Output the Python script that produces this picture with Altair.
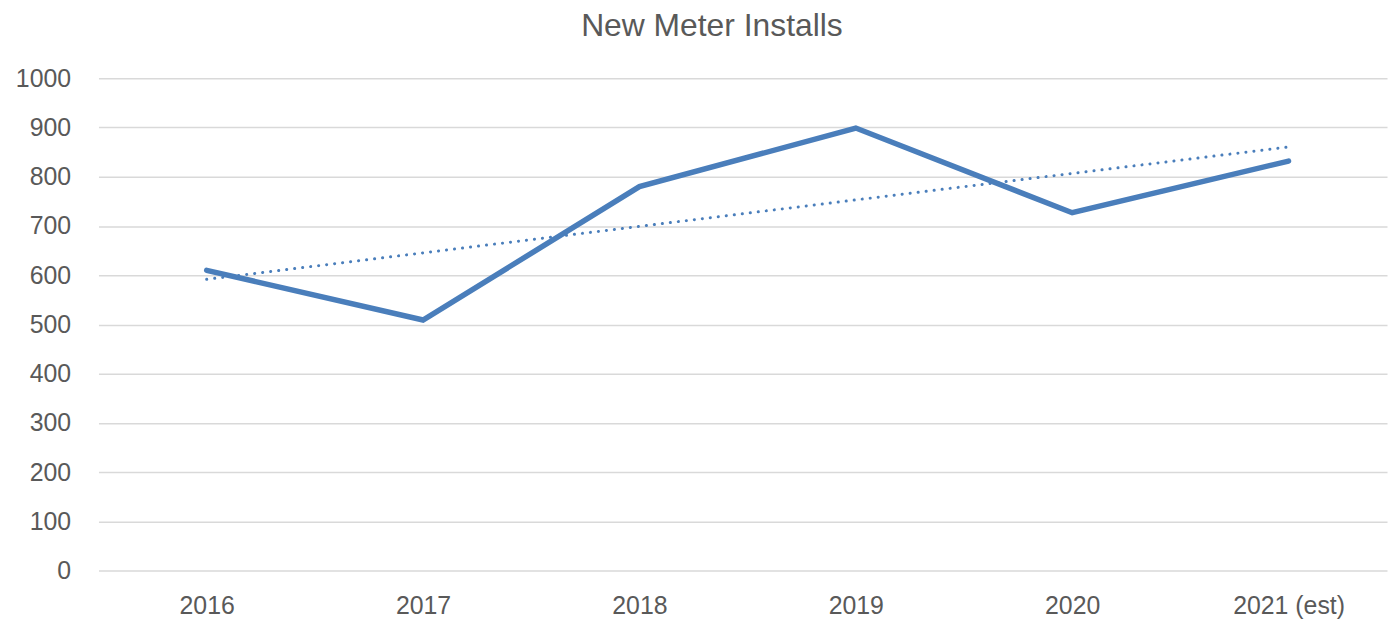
import altair as alt
import pandas as pd

labels = ["2016", "2017", "2018", "2019", "2020", "2021 (est)"]
idx = [0, 1, 2, 3, 4, 5]
installs = [610, 509, 780, 899, 727, 832]

df = pd.DataFrame({"idx": idx, "label": labels, "installs": installs})

label_expr = "[" + ",".join(f"'{l}'" for l in labels) + "][datum.value]"
blue = "#4a7ebb"
font = "Liberation Sans"

x = alt.X("idx:Q", scale=alt.Scale(domain=[-0.5, 5.455], nice=False, zero=False),
          axis=alt.Axis(values=idx, labelExpr=label_expr, grid=False, ticks=False,
                        domain=False, title=None, labelFontSize=25, labelColor="#595959",
                        labelFont=font, labelPadding=23))
y = alt.Y("installs:Q", scale=alt.Scale(domain=[0, 1000], nice=False),
          axis=alt.Axis(values=list(range(0, 1001, 100)), format="d", grid=True,
                        gridColor="#d9d9d9", gridWidth=1.5, ticks=False, domain=False,
                        title=None, labelFontSize=25, labelColor="#595959",
                        labelFont=font, labelPadding=28))

base = alt.Chart(df)
line = base.mark_line(color=blue, strokeWidth=5.5, strokeCap="round", strokeJoin="miter").encode(x=x, y=y)
trend = base.transform_regression("idx", "installs").mark_line(
    color=blue, strokeWidth=3, strokeCap="round", strokeDash=[0.1, 8]
).encode(x=x, y=y)

chart = alt.layer(trend, line).properties(
    width=1296, height=495,
    title=alt.TitleParams("New Meter Installs", fontSize=32, color="#595959", font=font,
                          fontWeight="normal", anchor="middle", offset=24, dx=-31),
    autosize=alt.AutoSizeParams(type="none"),
    padding={"left": 91, "top": 69, "right": 2, "bottom": 50},
).configure_view(stroke=None)

chart.save("out.html", embed_options={"renderer": "svg", "actions": False})
